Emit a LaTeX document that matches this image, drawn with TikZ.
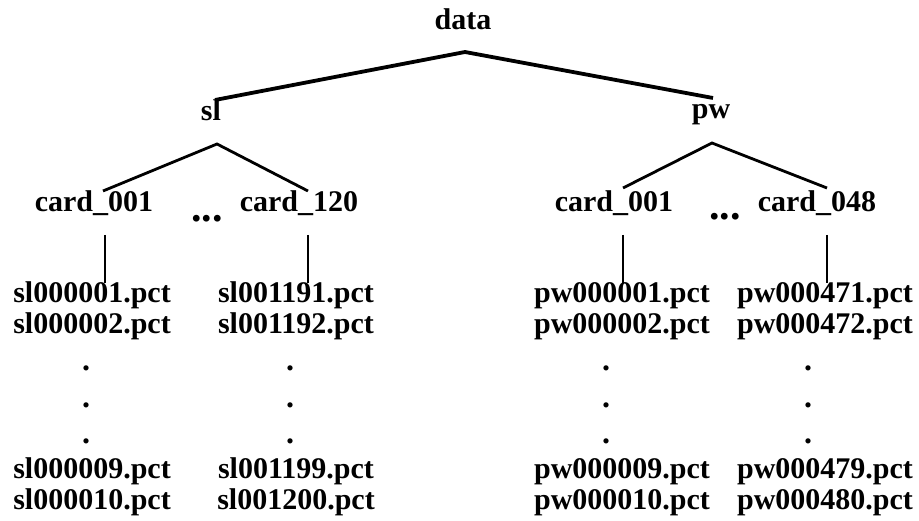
\documentclass[tikz,border=0pt]{standalone}
\usepackage{fontspec}
\setmainfont{Liberation Serif}
\begin{document}
\begin{tikzpicture}[x=1pt,y=-1pt,
  lbl/.style={font=\fontsize{30}{30}\selectfont\bfseries, anchor=base, inner sep=0pt},
  bigdots/.style={font=\fontsize{42}{42}\selectfont\bfseries, anchor=base, inner sep=0pt},
  vdot/.style={font=\fontsize{32}{32}\selectfont\bfseries, anchor=base, inner sep=0pt},
  topline/.style={line width=3.8pt},
  midline/.style={line width=2.8pt},
  vline/.style={line width=1.5pt}]
\useasboundingbox (0,0) rectangle (919,521);
% level 0/1
\node[lbl] (data) at (463,30) {data};
\node[lbl] (sl) at (211,121) {sl};
\node[lbl] (pw) at (711,119) {pw};
% level 2
\node[lbl] (c1) at (94,212) {card\_001};
\node[lbl] (c120) at (299,212) {card\_120};
\node[bigdots] (dl) at (207,222) {...};
\node[lbl] (p1) at (614,212) {card\_001};
\node[lbl] (p48) at (817,212) {card\_048};
\node[bigdots] (dr) at (725,220) {...};
% files
\foreach \nm/\x/\a/\b/\c/\d in {fa/92/sl000001/sl000002/sl000009/sl000010,
                                 fb/296/sl001191/sl001192/sl001199/sl001200,
                                 fc/622/pw000001/pw000002/pw000009/pw000010,
                                 fd/825/pw000471/pw000472/pw000479/pw000480}{
  \node[lbl] (\nm1) at (\x,303) {\a.pct};
  \node[lbl] (\nm2) at (\x,334) {\b.pct};
  \node[lbl] (\nm3) at (\x,478) {\c.pct};
  \node[lbl] (\nm4) at (\x,509) {\d.pct};
}
\foreach \nm/\x in {fa/86, fb/290, fc/606, fd/808}{
  \node[vdot] (\nm d1) at (\x,371) {.};
  \node[vdot] (\nm d2) at (\x,407) {.};
  \node[vdot] (\nm d3) at (\x,443) {.};
}
% connector end points
\coordinate (dataJ) at (465,52);
\coordinate (slT) at (215,100);
\coordinate (pwT) at (713,98);
\coordinate (slJ) at (217,144);
\coordinate (c1T) at (103,191);
\coordinate (c120T) at (308,191);
\coordinate (pwJ) at (712,143);
\coordinate (p1T) at (623,188);
\coordinate (p48T) at (827,188);
\coordinate (c1B) at (105,235);   \coordinate (fa1T) at (105,283);
\coordinate (c120B) at (308,235); \coordinate (fb1T) at (308,283);
\coordinate (p1B) at (623,235);   \coordinate (fc1T) at (623,283);
\coordinate (p48B) at (827,235);  \coordinate (fd1T) at (827,283);
% connectors
\draw[topline] (slT) -- (dataJ) -- (pwT);
\draw[midline] (c1T) -- (slJ) -- (c120T);
\draw[midline] (p1T) -- (pwJ) -- (p48T);
\draw[vline] (c1B) -- (fa1T);
\draw[vline] (c120B) -- (fb1T);
\draw[vline] (p1B) -- (fc1T);
\draw[vline] (p48B) -- (fd1T);
\end{tikzpicture}
\end{document}
